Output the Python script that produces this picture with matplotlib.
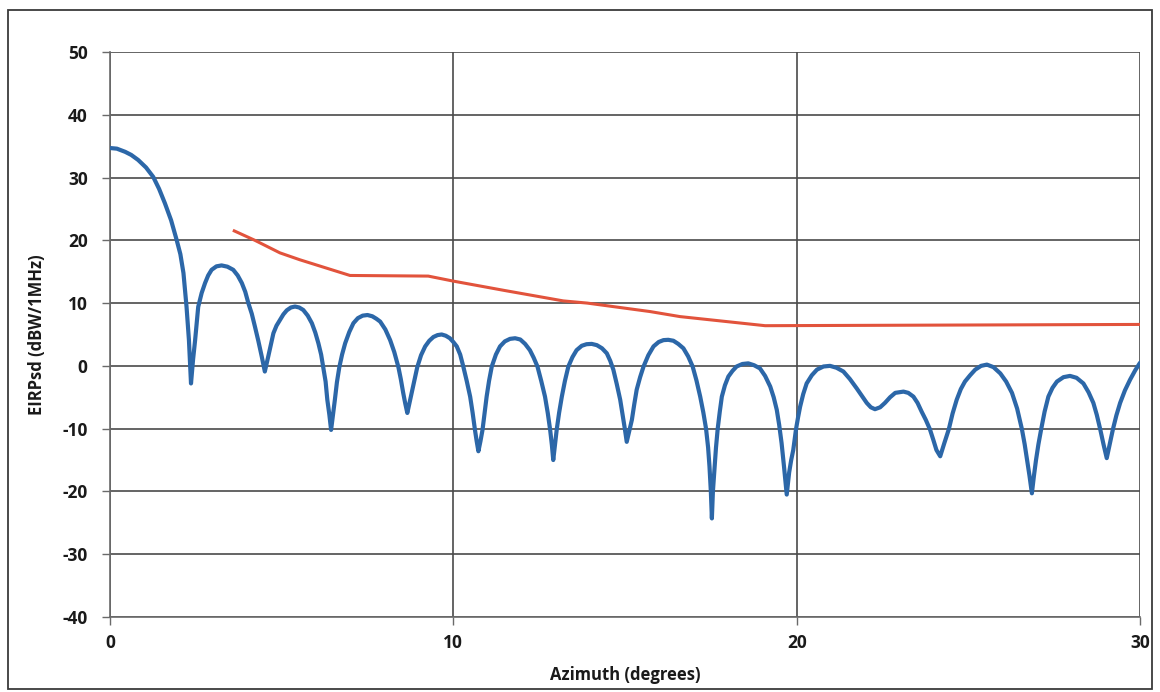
import matplotlib
matplotlib.use('Agg')
import matplotlib.pyplot as plt
from matplotlib.patches import Rectangle

# antenna pattern (blue), one row per lobe: azimuth in degrees
azimuth = [
    0.0, 0.2, 0.44, 0.62, 0.82, 1.05, 1.26, 1.43, 1.60, 1.78, 1.94, 2.05, 2.14, 2.23, 2.30, 2.36,
    2.42, 2.48, 2.57, 2.67, 2.77, 2.86, 2.96, 3.10, 3.25, 3.42, 3.59, 3.72, 3.84, 3.94, 4.03, 4.13, 4.22, 4.32, 4.42, 4.51,
    4.61, 4.76, 4.85, 4.95, 5.05, 5.15, 5.27, 5.39, 5.51, 5.63, 5.76, 5.88, 5.98, 6.07, 6.15, 6.21, 6.28, 6.33, 6.39, 6.44,
    6.50, 6.55, 6.61, 6.68, 6.76, 6.85, 6.97, 7.09, 7.22, 7.36, 7.50, 7.64, 7.76, 7.87, 8.02, 8.16, 8.28, 8.40, 8.47, 8.54, 8.60, 8.66,
    8.72, 8.79, 8.87, 8.95, 9.06, 9.18, 9.30, 9.42, 9.54, 9.66, 9.78, 9.90, 10.00, 10.10, 10.20, 10.29, 10.39, 10.49, 10.56, 10.63, 10.68, 10.73,
    10.79, 10.85, 10.91, 10.97, 11.04, 11.12, 11.24, 11.36, 11.50, 11.65, 11.80, 11.95, 12.09, 12.23, 12.34, 12.45, 12.56, 12.67, 12.75, 12.82, 12.87, 12.91,
    12.96, 13.01, 13.08, 13.16, 13.25, 13.35, 13.47, 13.59, 13.74, 13.88, 14.03, 14.18, 14.33, 14.47, 14.57, 14.66, 14.76, 14.86, 14.93, 15.00, 15.05,
    15.12, 15.20, 15.27, 15.34, 15.44, 15.54, 15.68, 15.83, 15.98, 16.12, 16.26, 16.41, 16.55, 16.70, 16.84, 16.97, 17.08, 17.19, 17.28, 17.36, 17.42, 17.46, 17.50, 17.53,
    17.56, 17.61, 17.65, 17.70, 17.76, 17.82, 17.91, 18.01, 18.13, 18.25, 18.42, 18.59, 18.76, 18.93, 19.08, 19.23, 19.33, 19.42, 19.49, 19.56, 19.63, 19.71,
    19.78, 19.84, 19.90, 19.98, 20.04, 20.10, 20.19, 20.29, 20.44, 20.59, 20.78, 20.97, 21.16, 21.36, 21.55, 21.75, 21.90, 22.04, 22.16, 22.28,
    22.43, 22.57, 22.72, 22.87, 23.11, 23.25, 23.40, 23.52, 23.64, 23.76, 23.88, 23.98, 24.07, 24.18,
    24.30, 24.43, 24.54, 24.66, 24.78, 24.90, 25.05, 25.20, 25.37, 25.54, 25.73, 25.93, 26.10, 26.27, 26.42, 26.56, 26.64, 26.71, 26.78, 26.85,
    26.91, 26.97, 27.04, 27.12, 27.22, 27.33, 27.45, 27.58, 27.77, 27.96, 28.15, 28.35, 28.50, 28.64, 28.74, 28.84, 28.94, 29.03,
    29.12, 29.21, 29.31, 29.42, 29.56, 29.71, 29.86, 30.0,
]
# EIRP spectral density in dBW/1MHz, same rows as above
eirp = [
    34.7, 34.6, 34.1, 33.6, 32.8, 31.6, 30.1, 28.2, 25.9, 23.2, 20.1, 17.8, 14.8, 9.4, 4.1, -2.8,
    1.0, 4.1, 9.4, 11.6, 13.2, 14.4, 15.3, 15.85, 16.0, 15.8, 15.3, 14.4, 13.2, 11.8, 10.0, 8.3, 6.3, 4.0, 1.5, -0.9,
    1.5, 5.2, 6.4, 7.3, 8.2, 8.85, 9.3, 9.45, 9.3, 8.9, 8.0, 6.8, 5.3, 3.6, 1.8, -0.2, -2.5, -5.4, -7.8, -10.2,
    -7.6, -5.4, -2.6, -0.2, 1.8, 3.6, 5.4, 6.8, 7.6, 8.0, 8.1, 7.9, 7.5, 7.05, 5.8, 4.1, 2.2, -0.2, -2.1, -4.3, -6.0, -7.5,
    -6.0, -4.3, -2.2, -0.2, 1.7, 3.1, 4.0, 4.6, 4.9, 5.0, 4.8, 4.4, 3.8, 3.1, 1.8, -0.1, -2.4, -4.9, -7.4, -10.2, -12.0, -13.6,
    -12.0, -10.2, -7.5, -4.9, -2.4, -0.1, 1.8, 3.1, 3.9, 4.3, 4.4, 4.2, 3.5, 2.5, 1.3, -0.1, -2.4, -4.9, -7.5, -10.2, -12.6, -15.0,
    -12.6, -10.2, -7.5, -4.9, -2.4, -0.1, 1.4, 2.5, 3.2, 3.45, 3.5, 3.3, 2.8, 2.0, 0.8, -0.6, -2.9, -5.4, -7.8, -10.2, -12.1,
    -10.5, -8.6, -6.1, -3.8, -1.8, -0.1, 1.7, 3.1, 3.8, 4.1, 4.15, 4.0, 3.5, 2.8, 1.5, -0.1, -2.3, -4.9, -7.4, -10.0, -13.0, -16.0, -20.0, -24.3,
    -20.0, -16.0, -13.0, -10.0, -7.3, -4.9, -3.1, -1.7, -0.8, -0.1, 0.3, 0.4, 0.1, -0.4, -1.6, -3.3, -5.0, -7.0, -9.4, -12.3, -16.0, -20.5,
    -17.0, -15.0, -13.4, -10.1, -8.2, -6.5, -4.5, -2.8, -1.5, -0.6, -0.1, 0.0, -0.3, -0.9, -2.1, -3.6, -4.8, -5.9, -6.6, -6.9,
    -6.6, -5.9, -5.0, -4.3, -4.1, -4.3, -4.9, -5.9, -7.3, -8.6, -10.1, -11.8, -13.4, -14.4,
    -12.3, -10.1, -7.6, -5.4, -3.7, -2.5, -1.5, -0.6, 0.0, 0.2, -0.2, -1.2, -2.5, -4.3, -6.8, -10.1, -12.5, -15.0, -17.5, -20.3,
    -17.5, -15.0, -12.5, -10.1, -7.3, -4.9, -3.5, -2.5, -1.8, -1.6, -1.9, -2.8, -4.2, -5.9, -7.8, -10.1, -12.6, -14.7,
    -12.4, -10.1, -7.9, -5.9, -3.9, -2.2, -0.7, 0.5,
]

# limit mask (red)
mask_az = [3.62, 4.22, 4.95, 5.53, 6.99, 9.27, 10.0, 11.5, 13.2, 13.9, 15.73, 16.6, 19.08, 30.0]
mask_db = [21.5, 20.0, 18.0, 16.9, 14.4, 14.3, 13.5, 12.0, 10.35, 10.0, 8.65, 7.85, 6.4, 6.6]

x_ticks = [0, 10, 20, 30]
y_ticks = [-40, -30, -20, -10, 0, 10, 20, 30, 40, 50]

plt.rcParams['font.family'] = ['Open Sans', 'DejaVu Sans']
plt.rcParams['axes.unicode_minus'] = False

fig = plt.figure(figsize=(11.6, 6.92), dpi=100)
ax = fig.add_axes([0.0948, 0.1084, 0.888, 0.8165])

ax.plot(azimuth, eirp, color='#2c67a8', linewidth=3.0,
        solid_joinstyle='round', solid_capstyle='round', zorder=3)
ax.plot(mask_az, mask_db, color='#e2533c', linewidth=2.2, zorder=2)

ax.set_xlim(0, 30)
ax.set_ylim(-40, 50)
ax.set_xticks(x_ticks)
ax.set_yticks(y_ticks)
ax.grid(True, color='#4a4a4a', linewidth=1.2)
ax.set_axisbelow(True)

for side in ['left', 'bottom']:
    ax.spines[side].set_color('#6a6a6a')
    ax.spines[side].set_linewidth(1.2)
for side in ['top', 'right']:
    ax.spines[side].set_visible(False)

ax.tick_params(axis='both', length=6, width=1.0, color='#6a6a6a',
               labelsize=12.5, labelcolor='#1a1a1a')
ax.tick_params(axis='y', pad=10)
ax.tick_params(axis='x', pad=6)
for lbl in ax.get_xticklabels() + ax.get_yticklabels():
    lbl.set_fontweight('bold')

ax.set_xlabel('Azimuth (degrees)', fontsize=12, fontweight='bold', color='#1a1a1a', labelpad=10)
ax.set_ylabel('EIRPsd (dBW/1MHz)', fontsize=12, fontweight='bold', color='#1a1a1a', labelpad=12)

# outer chart frame
fig.patches.append(Rectangle((0.007, 0.004), 0.986, 0.982, transform=fig.transFigure,
                             fill=False, edgecolor='#3a3a3a', linewidth=1.3))

fig.savefig('out.png', dpi=100)
